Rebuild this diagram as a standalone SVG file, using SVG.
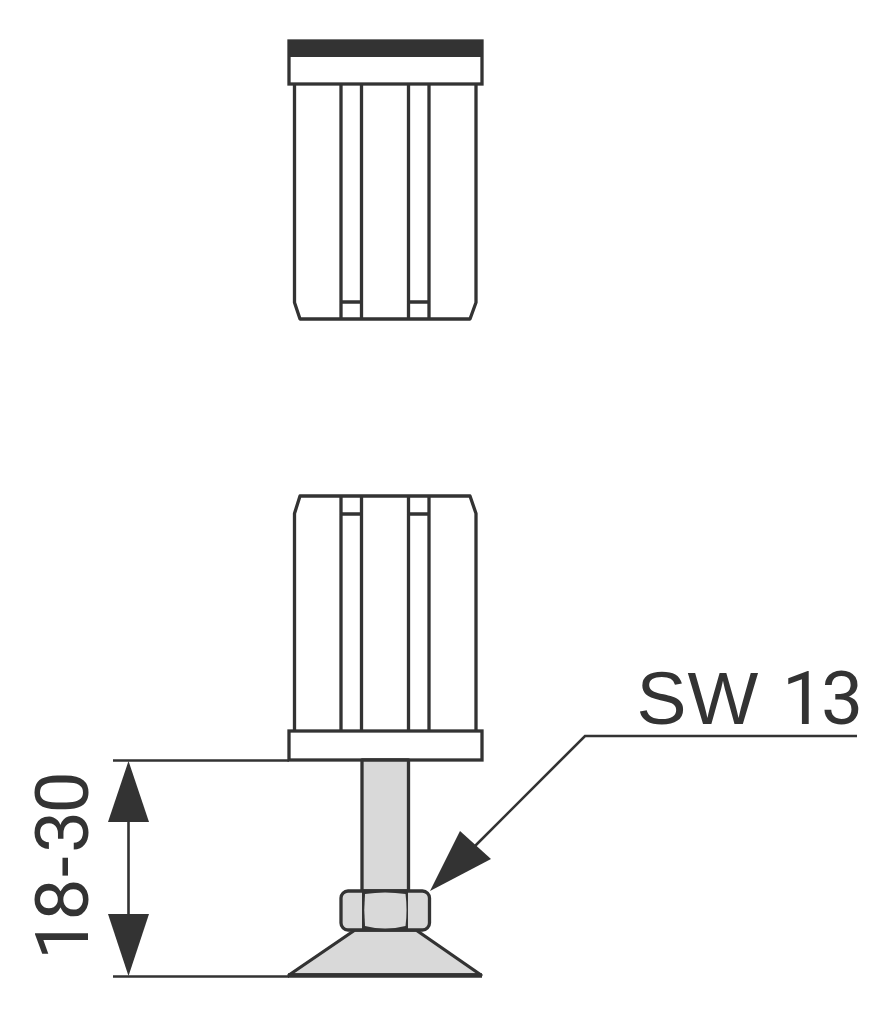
<svg xmlns="http://www.w3.org/2000/svg" width="893" height="1017" viewBox="0 0 893 1017">
<style>
.l{fill:none;stroke:#333;stroke-width:3.300;stroke-linejoin:round}
.w{fill:#fff;stroke:#333;stroke-width:3.300;stroke-linejoin:miter}
.g{fill:#d9d9d9;stroke:#333;stroke-width:3.300;stroke-linejoin:round}
.d{fill:none;stroke:#333;stroke-width:2.600}
.a{fill:#333}
.t{font-family:"Liberation Sans",Arial,sans-serif;font-size:75px;fill:#333}
.n{font-family:Roboto,"Liberation Sans",sans-serif;font-size:75px;fill:#333}
</style>
<rect width="893" height="1017" fill="#fff"/>
<g id="top-part">
<path class="l" d="M294.500 85V302.500L300 319H470L476 302.500V85M341 85V319M361.500 85V319M408.500 85V319M429 85V319M341 302H361.500M408.500 302H429"/>
<rect class="w" x="289" y="41" width="193" height="43"/>
<rect class="a" x="288" y="40" width="195" height="17"/>
</g>
<g id="bottom-part">
<path class="l" d="M294.500 731V513.500L300 496H470L476 513.500V731M341 496V731M361.500 496V731M408.500 496V731M429 496V731M341 514H361.500M408.500 514H429"/>
<rect class="w" x="289" y="731" width="193" height="29"/>
<rect class="g" x="362" y="760" width="46.500" height="131"/>
<path class="g" d="M355 930H416L481 975H289Z"/>
<path d="M288 975.500H482" fill="none" stroke="#333" stroke-width="4.500"/>
<rect class="g" x="341" y="891" width="88.500" height="39" rx="7"/>
<rect class="a" x="362" y="890" width="46" height="41"/>
<path d="M365 894Q385 891 405.500 894Q407.500 910 405.500 926Q385 931 365 926Q363.500 910 365 894Z" fill="#d9d9d9"/>
</g>
<g id="connectors">
<path class="d" d="M113 760.500H289M113 976.500H289M128.500 820V916"/>
<polygon class="a" points="128.500,761 149,822 108,822"/>
<polygon class="a" points="128.500,976 149,914 108,914"/>
<path class="d" d="M857 736H585L470 851"/>
<polygon class="a" points="430,891 460,831 491,859"/>
</g>
<g id="label-sw13"><text y="724"><tspan class="t" x="636.600" style="letter-spacing:1px">SW </tspan><tspan class="n" x="782 821">13</tspan></text></g>
<g id="label-18-30"><text class="n" transform="translate(88 960) rotate(-90)" x="0 39.500 83 107 146.500">18-30</text></g>
</svg>
